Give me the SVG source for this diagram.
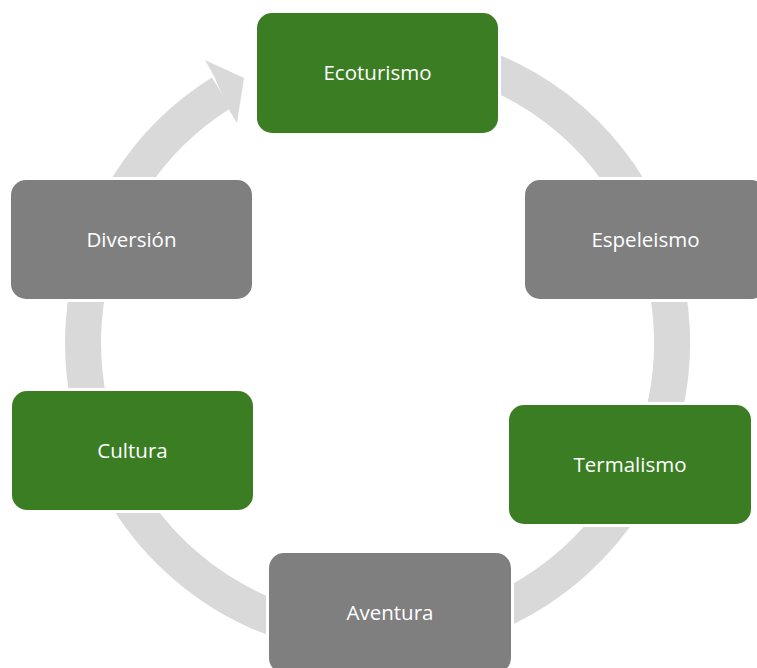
<svg xmlns="http://www.w3.org/2000/svg" width="757" height="668" viewBox="0 0 757 668">
<style>
.box{stroke:#ffffff;stroke-width:6;paint-order:stroke}
.g{fill:#3b7d23}
.k{fill:#7f7f7f}
.t{font-family:"Open Sans","Noto Sans",sans-serif;font-size:20.5px;fill:#ffffff;text-anchor:middle}
.ring{fill:none;stroke:#d9d9d9;stroke-width:36}
</style>
<rect width="757" height="668" fill="#ffffff"/>
<g id="connectors">
<path class="ring" d="M403.2 49.1 A294.5 294.5 0 1 1 221.4 92.8"/>
<polygon points="214,76 205,60 244,78 237,123 228,108" fill="#d9d9d9"/>
</g>
<g id="ecoturismo"><rect class="box g" x="257" y="13" width="241" height="120" rx="15"/><text class="t" x="377.5" y="80">Ecoturismo</text></g>
<g id="espeleismo"><rect class="box k" x="525" y="180" width="241" height="119" rx="15"/><text class="t" x="645.5" y="247">Espeleismo</text></g>
<g id="termalismo"><rect class="box g" x="509" y="405" width="242" height="119" rx="15"/><text class="t" x="630" y="472">Termalismo</text></g>
<g id="aventura"><rect class="box k" x="269" y="553" width="242" height="120" rx="15"/><text class="t" x="390" y="620">Aventura</text></g>
<g id="cultura"><rect class="box g" x="12" y="391" width="241" height="119" rx="15"/><text class="t" x="132.5" y="458">Cultura</text></g>
<g id="diversion"><rect class="box k" x="11" y="180" width="241" height="119" rx="15"/><text class="t" x="131.5" y="247">Diversión</text></g>
</svg>
